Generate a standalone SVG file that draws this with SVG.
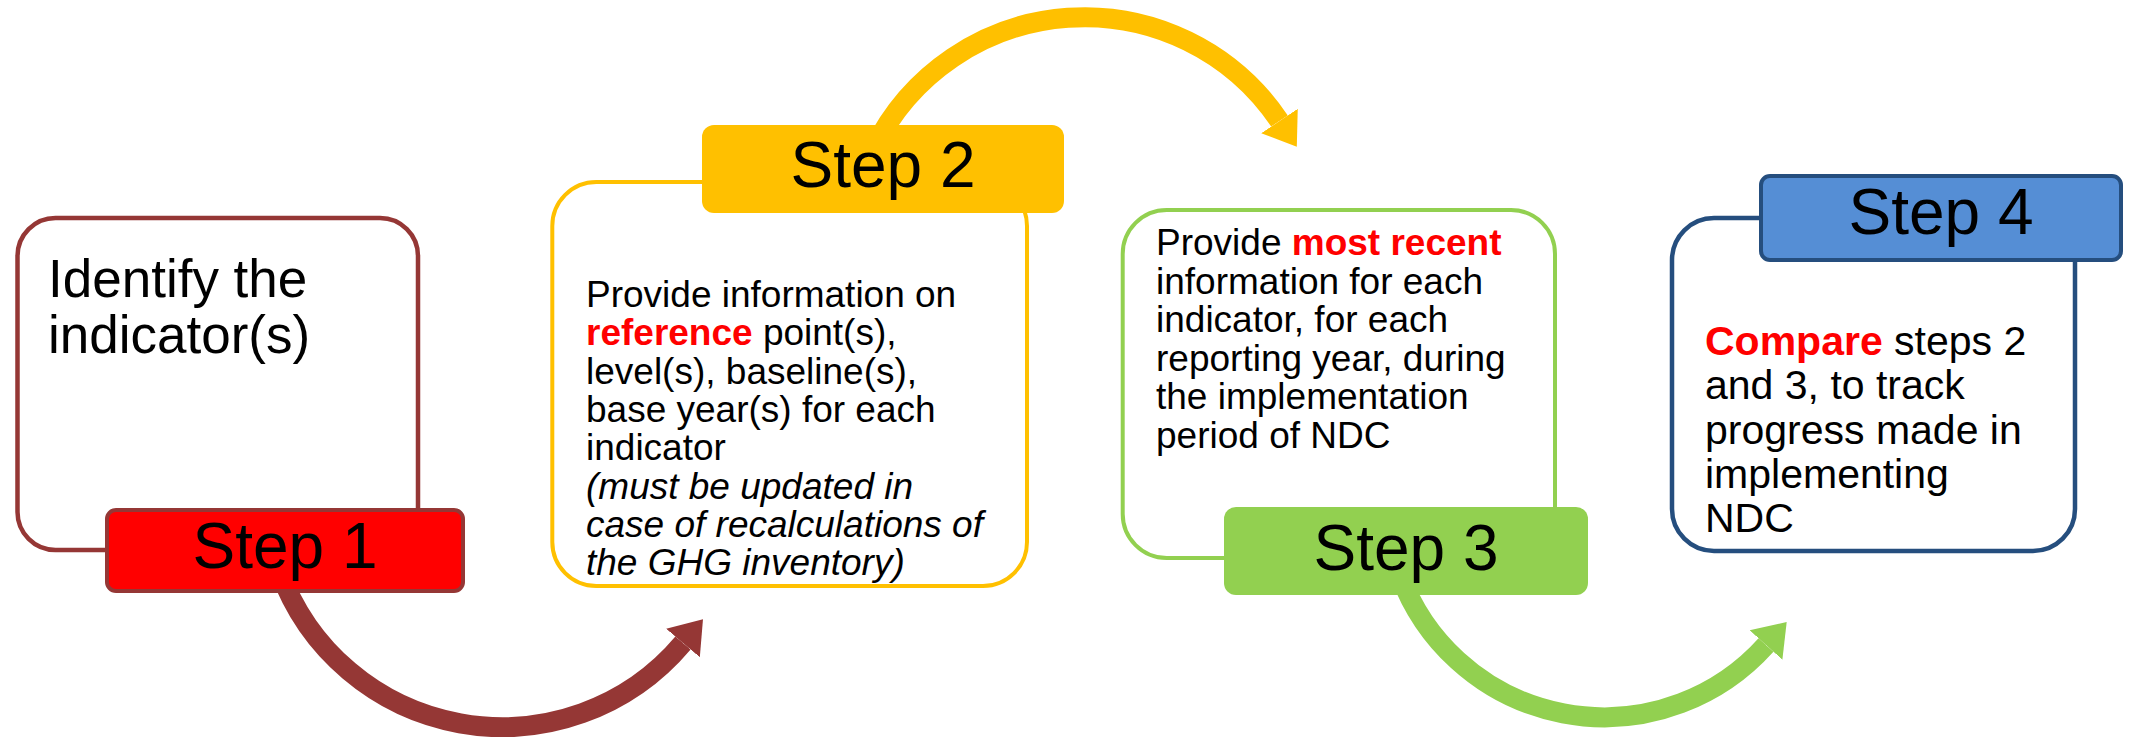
<svg xmlns="http://www.w3.org/2000/svg" width="2131" height="737" viewBox="0 0 2131 737">
<style>
text{font-family:"Liberation Sans",Arial,sans-serif;fill:#000}
.step{font-size:64px;text-anchor:middle}
.body{font-size:37px}
.b1{font-size:53px}
.b4{font-size:41px}
.hl{font-weight:bold;fill:#FF0000}
.it{font-style:italic}
.arc{fill:none;stroke-width:20}
</style>
<defs>
<marker id="ahRed" markerUnits="userSpaceOnUse" orient="auto" viewBox="0 0 32 50" markerWidth="32" markerHeight="50" refX="0" refY="25"><path d="M0,3 L31,25 L0,47 Z" fill="#953735"/></marker>
<marker id="ahYel" markerUnits="userSpaceOnUse" orient="auto" viewBox="0 0 32 50" markerWidth="32" markerHeight="50" refX="0" refY="25"><path d="M0,3 L31,25 L0,47 Z" fill="#FFC000"/></marker>
<marker id="ahGrn" markerUnits="userSpaceOnUse" orient="auto" viewBox="0 0 32 50" markerWidth="32" markerHeight="50" refX="0" refY="25"><path d="M0,3 L31,25 L0,47 Z" fill="#92D050"/></marker>
</defs>
<rect width="2131" height="737" fill="#FFFFFF"/>
<g id="connectors">
<path class="arc" stroke="#953735" d="M279.2,570 A236.6,236.6 0 0 0 683,643" marker-end="url(#ahRed)"/>
<path class="arc" stroke="#FFC000" d="M872.9,150 A235,235 0 0 1 1279.5,121" marker-end="url(#ahYel)"/>
<path class="arc" stroke="#92D050" d="M1400,575 A217.5,217.5 0 0 0 1766,645" marker-end="url(#ahGrn)"/>
</g>
<g id="step1">
<rect x="17.5" y="218" width="400.5" height="332" rx="38" fill="#FFFFFF" stroke="#953735" stroke-width="4.5"/>
<rect x="107" y="510" width="356" height="81" rx="9" fill="#FF0000" stroke="#953735" stroke-width="4"/>
<text class="step" x="285" y="568">Step 1</text>
<text class="b1" x="48" y="297">Identify the</text>
<text class="b1" x="48" y="353">indicator(s)</text>
</g>
<g id="step2">
<rect x="552.3" y="182" width="474.7" height="404" rx="44" fill="#FFFFFF" stroke="#FFC000" stroke-width="4"/>
<rect x="702" y="125" width="362" height="88" rx="12" fill="#FFC000"/>
<text class="step" x="883" y="187">Step 2</text>
<text class="body" x="586" y="307">Provide information on</text>
<text class="body" x="586" y="345.3"><tspan class="hl">reference</tspan> point(s),</text>
<text class="body" x="586" y="383.6">level(s), baseline(s),</text>
<text class="body" x="586" y="421.9">base year(s) for each</text>
<text class="body" x="586" y="460.2">indicator</text>
<text class="body it" x="586" y="498.5">(must be updated in</text>
<text class="body it" x="586" y="536.8">case of recalculations of</text>
<text class="body it" x="586" y="575.1">the GHG inventory)</text>
</g>
<g id="step3">
<rect x="1122.7" y="210" width="432.3" height="348" rx="44" fill="#FFFFFF" stroke="#92D050" stroke-width="4"/>
<rect x="1224" y="507" width="364" height="88" rx="12" fill="#92D050"/>
<text class="step" x="1406" y="570">Step 3</text>
<text class="body" x="1156" y="255">Provide <tspan class="hl">most recent</tspan></text>
<text class="body" x="1156" y="293.6">information for each</text>
<text class="body" x="1156" y="332.2">indicator, for each</text>
<text class="body" x="1156" y="370.8">reporting year, during</text>
<text class="body" x="1156" y="409.4">the implementation</text>
<text class="body" x="1156" y="448">period of NDC</text>
</g>
<g id="step4">
<rect x="1672" y="218" width="403" height="333" rx="42" fill="#FFFFFF" stroke="#254E7E" stroke-width="4.5"/>
<rect x="1761" y="176" width="360" height="84" rx="9" fill="#558ED5" stroke="#254E7E" stroke-width="4"/>
<text class="step" x="1941" y="234">Step 4</text>
<text class="b4" x="1705" y="355"><tspan class="hl">Compare</tspan> steps 2</text>
<text class="b4" x="1705" y="399.3">and 3, to track</text>
<text class="b4" x="1705" y="443.5">progress made in</text>
<text class="b4" x="1705" y="487.8">implementing</text>
<text class="b4" x="1705" y="532">NDC</text>
</g>
</svg>
